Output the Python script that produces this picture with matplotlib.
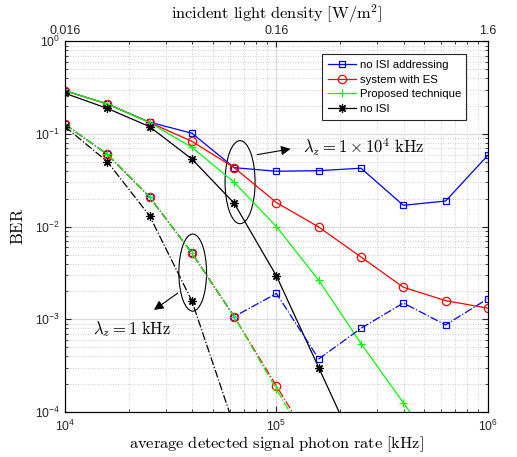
import numpy as np
import matplotlib
matplotlib.use("Agg")
import matplotlib.pyplot as plt
from matplotlib.patches import Ellipse
from matplotlib.ticker import NullFormatter, LogLocator

plt.rcParams['font.family'] = ['Liberation Sans', 'DejaVu Sans']
plt.rcParams['mathtext.fontset'] = 'custom'
plt.rcParams['mathtext.rm'] = 'Liberation Sans'
plt.rcParams['mathtext.it'] = 'Liberation Sans:italic'
plt.rcParams['mathtext.bf'] = 'Liberation Sans:bold'

# photon rate [kHz]
rate = [1e4, 1.585e4, 2.512e4, 3.981e4, 6.31e4, 1e5, 1.585e5, 2.512e5, 3.981e5, 6.31e5, 1e6]

# lambda_z = 1e4 kHz (linee continue)
ber_addr_hi = [0.293, 0.211, 0.134, 0.102, 0.0433, 0.0396, 0.0402, 0.0427, 0.0170, 0.0189, 0.059]
ber_es_hi = [0.293, 0.211, 0.133, 0.0834, 0.0433, 0.0182, 0.0099, 0.0047, 0.00222, 0.00159, 0.00132]
ber_prop_hi = [0.293, 0.211, 0.133, 0.0719, 0.0301, 0.0100, 0.00264, 0.000547, 0.000126, 2.9e-5]
ber_noisi_hi = [0.275, 0.189, 0.120, 0.0537, 0.0179, 0.00294, 0.000301, 3.05e-5]

# lambda_z = 1 kHz (linee tratto-punto)
ber_addr_lo = [0.127, 0.0604, 0.0209, 0.0052, 0.00107, 0.0019, 0.000374, 0.0008, 0.0015, 0.00087, 0.00167]
ber_es_lo = [0.127, 0.0604, 0.0209, 0.0052, 0.00107, 0.000191, 3.4e-5]
ber_prop_lo = [0.127, 0.0604, 0.0209, 0.0052, 0.00107, 0.000176, 2.9e-5]
ber_noisi_lo = [0.12, 0.0503, 0.0131, 0.00158, 7e-5]

labels = ['no ISI addressing', 'system with ES', 'Proposed technique', 'no ISI']
top_ticks = [1e4, 1e5, 1e6]
top_labels = ['0.016', '0.16', '1.6']

grey = '#262626'
star = (8, 2, 0)

fig = plt.figure(figsize=(5.17, 4.57), dpi=100)
ax = fig.add_axes([0.1257, 0.0985, 0.818, 0.8111])

stili = [('#0000ff', 's', 5), ('#ff0000', 'o', 6), ('#00ff00', '+', 6), ('k', star, 6)]
serie_hi = [ber_addr_hi, ber_es_hi, ber_prop_hi, ber_noisi_hi]
serie_lo = [ber_addr_lo, ber_es_lo, ber_prop_lo, ber_noisi_lo]

for (c, m, ms), yy, lab in zip(stili, serie_hi, labels):
    ax.plot(rate[:len(yy)], yy, color=c, marker=m, ms=ms, mfc='none', mew=0.9,
            lw=0.9, label=lab)
for (c, m, ms), yy in zip(stili, serie_lo):
    ax.plot(rate[:len(yy)], yy, color=c, marker=m, ms=ms, mfc='none', mew=0.9,
            lw=0.9, ls='-.')

ax.set_xscale('log')
ax.set_yscale('log')
ax.set_xlim(1e4, 1e6)
ax.set_ylim(1e-4, 1)
ax.yaxis.set_major_locator(LogLocator(base=10, numticks=10))
ax.yaxis.set_minor_locator(LogLocator(base=10, subs=np.arange(2, 10), numticks=10))
ax.yaxis.set_minor_formatter(NullFormatter())
ax.xaxis.set_minor_formatter(NullFormatter())

ax.grid(which='major', color='#dcdcdc', lw=0.9, ls='-')
ax.grid(which='minor', color='#bdbdbd', lw=0.6, ls=(0, (1, 2)))
ax.set_axisbelow(True)
ax.tick_params(which='both', direction='in', right=True, colors=grey, labelsize=8.8)
ax.tick_params(axis='x', pad=5)
ax.tick_params(which='major', length=4)
ax.tick_params(which='minor', length=2)
for s in ax.spines.values():
    s.set_color(grey)

ax.set_xlabel(r'$\mathrm{average\ detected\ signal\ photon\ rate\ [kHz]}$',
              math_fontfamily='cm', fontsize=11.8, labelpad=0)
ax.set_ylabel(r'$\mathrm{BER}$', math_fontfamily='cm', fontsize=12, labelpad=6)

ax2 = ax.twiny()
ax2.set_xscale('log')
ax2.set_xlim(ax.get_xlim())
ax2.set_xticks(top_ticks, labels=top_labels)
ax2.xaxis.set_minor_formatter(NullFormatter())
ax2.tick_params(which='both', direction='in', colors=grey, labelsize=9, pad=3)
ax2.tick_params(which='major', length=4)
ax2.tick_params(which='minor', length=2)
ax2.set_xlabel(r'$\mathrm{incident\ light\ density\ [W/m^2]}$',
               math_fontfamily='cm', fontsize=11.8, labelpad=5)

leg = ax.legend(loc='upper left', bbox_to_anchor=(0.6077, 0.8, 0.340, 0.1657),
                mode='expand', borderaxespad=0, fontsize=8.2, fancybox=False,
                edgecolor=grey, framealpha=1, labelspacing=0.42,
                handlelength=2.45, handletextpad=0.35, borderpad=0.5)
leg.get_frame().set_linewidth(0.8)

# ellissi e frecce
ax.add_patch(Ellipse((0.414, 0.620), 0.071, 0.224, transform=ax.transAxes,
                     fill=False, ec='k', lw=0.8))
ax.add_patch(Ellipse((0.302, 0.376), 0.0655, 0.208, transform=ax.transAxes,
                     fill=False, ec='k', lw=0.8))
ax.annotate('', xy=(0.540, 0.711), xytext=(0.448, 0.693), xycoords='axes fraction',
            arrowprops=dict(arrowstyle='-|>', color='k', lw=0.8, mutation_scale=14))
ax.annotate('', xy=(0.205, 0.271), xytext=(0.272, 0.325), xycoords='axes fraction',
            arrowprops=dict(arrowstyle='-|>', color='k', lw=0.8, mutation_scale=14))
ax.text(0.563, 0.715, r'$\lambda_z = 1\times10^4\ \mathrm{kHz}$', transform=ax.transAxes,
        math_fontfamily='cm', fontsize=12, va='center')
ax.text(0.067, 0.224, r'$\lambda_z = 1\ \mathrm{kHz}$', transform=ax.transAxes,
        math_fontfamily='cm', fontsize=12, va='center')

fig.savefig('out.png', dpi=100)
